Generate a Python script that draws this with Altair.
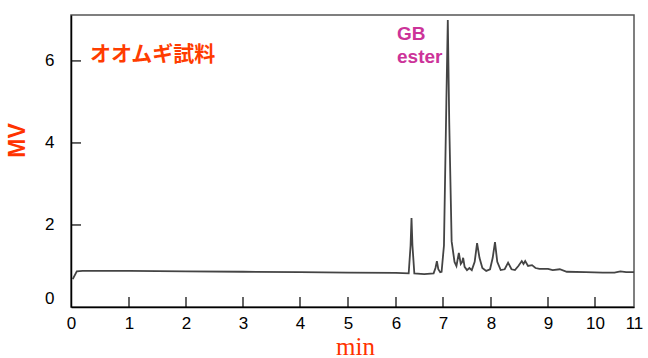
import altair as alt
import pandas as pd

# chromatogram trace (min, MV)
time_min = [0.03, 0.1, 0.2, 1, 2, 3, 4, 5, 6, 6.27, 6.31, 6.33, 6.35, 6.39,
            6.6, 6.8, 6.84, 6.87, 6.90, 6.94, 6.97, 7.02, 7.07, 7.10, 7.13,
            7.18, 7.24, 7.28, 7.33, 7.37, 7.40, 7.42, 7.45, 7.5, 7.55, 7.6,
            7.66, 7.71, 7.76, 7.82, 7.9, 7.98, 8.03, 8.07, 8.11, 8.17, 8.24,
            8.30, 8.36, 8.42, 8.48, 8.54, 8.57, 8.60, 8.65, 8.72, 8.78, 8.85,
            9.0, 9.1, 9.25, 9.4, 9.8, 10.2, 10.5, 10.65, 10.8, 11.0]
signal_mv = [0.68, 0.87, 0.88, 0.88, 0.87, 0.86, 0.85, 0.84, 0.83, 0.82, 1.5,
             2.17, 1.5, 0.82, 0.80, 0.82, 0.95, 1.12, 0.92, 0.85, 0.86, 1.5,
             5.0, 7.0, 4.5, 1.6, 1.1, 1.0, 1.32, 1.05, 1.1, 1.2, 0.98, 0.9,
             0.95, 0.9, 1.1, 1.56, 1.2, 0.95, 0.88, 0.92, 1.2, 1.58, 1.1, 0.9,
             0.92, 1.08, 0.92, 0.9, 1.0, 1.12, 1.05, 1.12, 1.0, 1.02, 0.95,
             0.93, 0.93, 0.9, 0.92, 0.86, 0.85, 0.84, 0.84, 0.87, 0.85, 0.85]

x_tick_values = [0, 1, 2, 3, 4, 5, 6, 7, 8, 9, 10, 11]
x_inner_ticks = [1, 2, 3, 4, 5, 6, 7, 8, 9, 10]
y_tick_values = [0, 2, 4, 6]
y_inner_ticks = [2, 4, 6]
sample_label = ["オオムギ試料"]
peak_label_1 = ["GB"]
peak_label_2 = ["ester"]

# layout (the original time axis is unevenly spaced)
W, H = 563, 292
x_range_px = [0, 58, 115, 172, 229, 277, 325, 372, 420, 477, 524, 563]

xscale = alt.Scale(domain=x_tick_values, range=x_range_px, zero=False, nice=False)
yscale = alt.Scale(domain=[0, 7.12], zero=False, nice=False)

x_axis = alt.Axis(values=x_tick_values, ticks=False, grid=False,
                  domainColor="black", domainWidth=1.5,
                  labelFont="Liberation Sans", labelFontSize=17,
                  labelColor="black", labelPadding=8, labelFlush=False,
                  title="min", titleFont="Liberation Serif",
                  titleFontSize=25, titleFontWeight="normal",
                  titleColor="#ff3300", titleBaseline="alphabetic",
                  titleAlign="center", titleX=284, titleY=47)
y_axis = alt.Axis(values=y_tick_values, ticks=False, grid=False,
                  domainColor="black", domainWidth=1.5,
                  labelFont="Liberation Sans", labelFontSize=17,
                  labelColor="black", labelPadding=17, labelFlush=False,
                  labelBaseline=alt.expr("datum.value === 0 ? 'bottom' : 'middle'"),
                  title="MV", titleFont="Liberation Sans",
                  titleFontSize=23, titleFontWeight="bold",
                  titleColor="#ff3300", titleAngle=270,
                  titleBaseline="alphabetic", titleAlign="center",
                  titleX=-47, titleY=125)

df = pd.DataFrame({"t": time_min, "v": signal_mv})

line = alt.Chart(df).mark_line(color="#444444", strokeWidth=1.8, interpolate="linear").encode(
    x=alt.X("t:Q", scale=xscale, axis=x_axis),
    y=alt.Y("v:Q", scale=yscale, axis=y_axis),
)

xt = alt.Chart(pd.DataFrame({"t": x_inner_ticks})).mark_rule(color="black", strokeWidth=1.2).encode(
    x=alt.X("t:Q", scale=xscale, axis=x_axis),
    y=alt.value(H), y2=alt.value(H - 10),
)
yt = alt.Chart(pd.DataFrame({"v": y_inner_ticks})).mark_rule(color="black", strokeWidth=1.2).encode(
    y=alt.Y("v:Q", scale=yscale, axis=y_axis),
    x=alt.value(0), x2=alt.value(10),
)

txt1 = alt.Chart(pd.DataFrame({"s": sample_label})).mark_text(
    font="Noto Sans CJK JP", fontWeight="bold", fontSize=21, color="#ff3c00",
    align="left", baseline="middle").encode(
    text="s:N", x=alt.value(19), y=alt.value(40))
txt2 = alt.Chart(pd.DataFrame({"s": peak_label_1})).mark_text(
    font="Liberation Sans", fontWeight="bold", fontSize=19, color="#cc3399",
    align="left", baseline="middle").encode(
    text="s:N", x=alt.value(326), y=alt.value(19))
txt3 = alt.Chart(pd.DataFrame({"s": peak_label_2})).mark_text(
    font="Liberation Sans", fontWeight="bold", fontSize=19, color="#cc3399",
    align="left", baseline="middle").encode(
    text="s:N", x=alt.value(326), y=alt.value(42))

chart = alt.layer(line, xt, yt, txt1, txt2, txt3).properties(
    width=W, height=H,
    autosize=alt.AutoSizeParams(type="none"),
    padding={"left": 71, "top": 15, "right": 14, "bottom": 51},
).configure_view(stroke="#555555", strokeWidth=1.5)

chart.save("out.html", embed_options={"renderer": "svg", "actions": False})
